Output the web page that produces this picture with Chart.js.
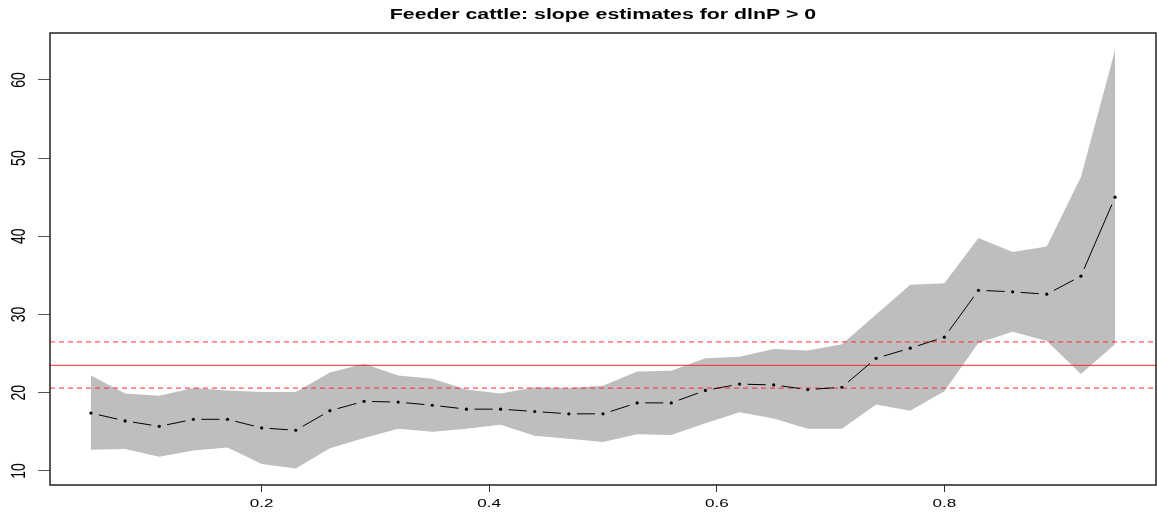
<!DOCTYPE html>
<html>
<head>
<meta charset="utf-8">
<title>Feeder cattle slope estimates</title>
<script src="https://cdn.jsdelivr.net/npm/chart.js@4.4.1/dist/chart.umd.min.js"></script>
<style>
  html, body { margin: 0; padding: 0; background: #fff; overflow: hidden; }
  #wrap { width: 1157px; height: 513px; }
  canvas { display: block; }
</style>
</head>
<body>
<div id="wrap"><canvas id="slopeChart" width="1157" height="513"></canvas></div>
<script>
// quantile grid and slope estimates (mean + band)
var quantiles = [0.05, 0.08, 0.11, 0.14, 0.17, 0.20, 0.23, 0.26, 0.29, 0.32, 0.35,
                 0.38, 0.41, 0.44, 0.47, 0.50, 0.53, 0.56, 0.59, 0.62, 0.65, 0.68,
                 0.71, 0.74, 0.77, 0.80, 0.83, 0.86, 0.89, 0.92, 0.95];
var slopeMid = [17.4, 16.4, 15.7, 16.6, 16.6, 15.5, 15.2, 17.7, 18.9, 18.8, 18.4,
                17.9, 17.9, 17.6, 17.3, 17.3, 18.7, 18.7, 20.3, 21.1, 21.0, 20.4,
                20.7, 24.4, 25.7, 27.1, 33.1, 32.9, 32.6, 34.9, 45.0];
var slopeHigh = [22.2, 19.9, 19.6, 20.6, 20.3, 20.1, 20.1, 22.6, 23.7, 22.2, 21.8,
                 20.4, 19.9, 20.7, 20.6, 20.9, 22.7, 22.8, 24.4, 24.6, 25.6, 25.4,
                 26.2, 30.0, 33.8, 34.0, 39.8, 38.0, 38.7, 47.6, 63.8];
var slopeLow = [12.7, 12.8, 11.8, 12.6, 13.0, 10.9, 10.3, 12.9, 14.2, 15.4, 15.0,
                15.4, 15.9, 14.5, 14.1, 13.7, 14.7, 14.6, 16.1, 17.5, 16.7, 15.4,
                15.4, 18.5, 17.7, 20.2, 26.4, 27.8, 26.6, 22.4, 26.2];
// overall OLS slope and its interval
var olsSlope = 23.5;
var olsBounds = [26.5, 20.6];

var xTicks = [0.2, 0.4, 0.6, 0.8];
var yTicks = [10, 20, 30, 40, 50, 60];
var chartTitle = 'Feeder cattle: slope estimates for dlnP > 0';

var xMin = 0.014, xMax = 0.986;
var yMin = 8.2, yMax = 66.0;

function pairs(ys) {
    return ys.map(function (y, i) { return { x: quantiles[i], y: y }; });
}
function hline(v) {
    return [{ x: xMin, y: v }, { x: xMax, y: v }];
}

// R-ish decorations: box, rotated y labels, wide text, type="b" segments
var rPlotDecor = {
    id: 'rPlotDecor',
    afterDatasetsDraw: function (chart) {
        var ctx = chart.ctx;
        var pts = chart.getDatasetMeta(0).data;
        var gap = 8;
        ctx.save();
        ctx.strokeStyle = '#000';
        ctx.lineWidth = 1;
        for (var i = 0; i < pts.length - 1; i++) {
            var a = pts[i], b = pts[i + 1];
            var dx = b.x - a.x, dy = b.y - a.y;
            var d = Math.sqrt(dx * dx + dy * dy);
            if (d <= 2 * gap) continue;
            var ux = dx / d, uy = dy / d;
            ctx.beginPath();
            ctx.moveTo(a.x + ux * gap, a.y + uy * gap);
            ctx.lineTo(b.x - ux * gap, b.y - uy * gap);
            ctx.stroke();
        }
        ctx.restore();
    },
    afterDraw: function (chart) {
        var ctx = chart.ctx;
        var area = chart.chartArea;
        var xs = chart.scales.x, ys = chart.scales.y;

        ctx.save();
        ctx.strokeStyle = '#222';
        ctx.lineWidth = 1.5;
        ctx.strokeRect(area.left, area.top, area.right - area.left, area.bottom - area.top);

        ctx.fillStyle = '#000';
        ctx.textAlign = 'center';
        ctx.textBaseline = 'middle';

        // title
        ctx.font = 'bold 14px "Liberation Sans", Arial, sans-serif';
        ctx.save();
        ctx.translate((area.left + area.right) / 2, 15);
        ctx.scale(1.52, 1);
        ctx.fillText(chartTitle, 0, 0);
        ctx.restore();

        // x tick labels
        ctx.font = '11px "Liberation Sans", Arial, sans-serif';
        xTicks.forEach(function (v) {
            ctx.save();
            ctx.translate(xs.getPixelForValue(v), 504);
            ctx.scale(1.55, 1);
            ctx.fillText(v.toFixed(1), 0, 0);
            ctx.restore();
        });

        // y tick labels, turned like las = 0
        ctx.font = '14px "Liberation Sans", Arial, sans-serif';
        yTicks.forEach(function (v) {
            ctx.save();
            ctx.translate(20, ys.getPixelForValue(v));
            ctx.rotate(-Math.PI / 2);
            ctx.scale(1, 1.4);
            ctx.fillText(String(v), 0, 0);
            ctx.restore();
        });
        ctx.restore();
    }
};

new Chart(document.getElementById('slopeChart'), {
    type: 'line',
    data: {
        datasets: [
            {
                label: 'estimate',
                data: pairs(slopeMid),
                showLine: false,
                pointRadius: 1.6,
                pointHoverRadius: 1.6,
                pointBackgroundColor: '#000',
                pointBorderWidth: 0,
                order: 1
            },
            {
                label: 'ols',
                data: hline(olsSlope),
                borderColor: 'rgba(255,40,40,0.8)',
                borderWidth: 1.2,
                pointRadius: 0,
                order: 2
            },
            {
                label: 'ols upper',
                data: hline(olsBounds[0]),
                borderColor: 'rgba(255,40,40,0.8)',
                borderWidth: 1.2,
                borderDash: [5, 4],
                pointRadius: 0,
                order: 2
            },
            {
                label: 'ols lower',
                data: hline(olsBounds[1]),
                borderColor: 'rgba(255,40,40,0.8)',
                borderWidth: 1.2,
                borderDash: [5, 4],
                pointRadius: 0,
                order: 2
            },
            {
                label: 'upper',
                data: pairs(slopeHigh),
                borderWidth: 0,
                pointRadius: 0,
                backgroundColor: '#bebebe',
                fill: '+1',
                order: 3
            },
            {
                label: 'lower',
                data: pairs(slopeLow),
                borderWidth: 0,
                pointRadius: 0,
                backgroundColor: '#bebebe',
                fill: false,
                order: 3
            }
        ]
    },
    options: {
        responsive: false,
        animation: false,
        devicePixelRatio: 1,
        events: [],
        layout: { autoPadding: false, padding: { top: 33, right: 1, left: 0, bottom: 0 } },
        plugins: {
            legend: { display: false },
            title: { display: false },
            tooltip: { enabled: false }
        },
        scales: {
            x: {
                type: 'linear',
                min: xMin,
                max: xMax,
                afterBuildTicks: function (scale) {
                    scale.ticks = xTicks.map(function (v) { return { value: v }; });
                },
                afterFit: function (scale) { scale.height = 28; },
                ticks: { display: false },
                border: { display: false },
                grid: {
                    drawOnChartArea: false,
                    drawTicks: true,
                    tickLength: 7,
                    tickColor: '#333',
                    lineWidth: 1
                }
            },
            y: {
                type: 'linear',
                min: yMin,
                max: yMax,
                afterBuildTicks: function (scale) {
                    scale.ticks = yTicks.map(function (v) { return { value: v }; });
                },
                afterFit: function (scale) { scale.width = 50; },
                ticks: { display: false },
                border: { display: false },
                grid: {
                    drawOnChartArea: false,
                    drawTicks: true,
                    tickLength: 12,
                    tickColor: '#555',
                    lineWidth: 1
                }
            }
        }
    },
    plugins: [rPlotDecor]
});
</script>
</body>
</html>
